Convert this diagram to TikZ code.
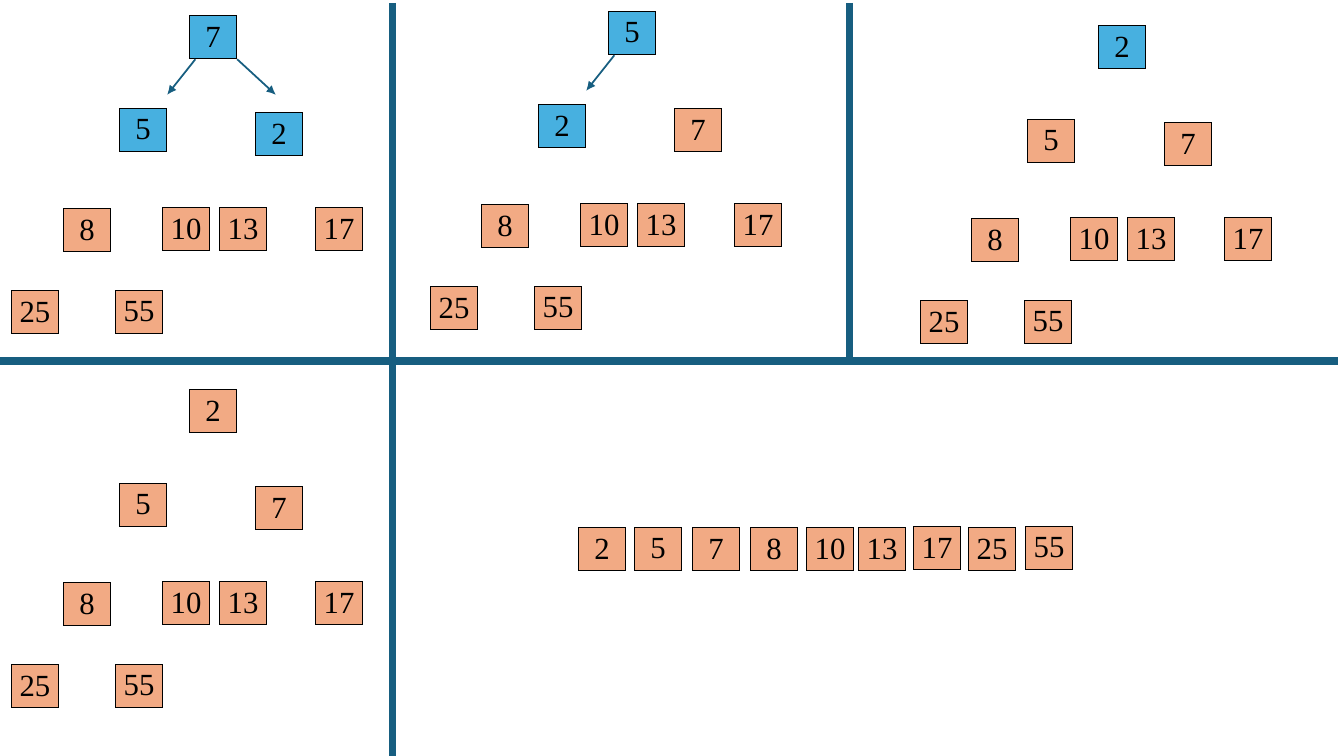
\documentclass[tikz,border=0pt]{standalone}
\usepackage{xcolor}
\usepackage{fontspec}
\setmainfont{Liberation Serif}
\usepackage{tikz}
\usetikzlibrary{arrows.meta}
\definecolor{heapcolor}{HTML}{47B0E0}
\definecolor{keycolor}{HTML}{F2AA84}
\definecolor{rulecolor}{HTML}{175E80}
\tikzset{
  keybox/.style={draw, rectangle, line width=0.6pt, minimum width=0.95cm, minimum height=0.87cm, inner sep=0pt, fill=keycolor, font=\fontsize{17.5pt}{20pt}\selectfont},
  heapbox/.style={keybox, fill=heapcolor},
  divider/.style={draw=rulecolor, line width=4pt},
  swapline/.style={draw=rulecolor, line width=1pt, -{Latex[length=5.5pt,width=5pt]}}
}
\begin{document}
\begin{tikzpicture}[x=0.02cm, y=-0.02cm]%
\useasboundingbox (0, 0) rectangle (1338, 756);%
% panel lines
\draw[divider] (392.5, 3) -- (392.5, 756);%
\draw[divider] (849.5, 3) -- (849.5, 361);%
\draw[divider] (0, 361) -- (1338, 361);%
% panel 1
\node[heapbox] (aseven) at (213, 37) {7};%
\node[heapbox] (afive) at (143, 130) {5};%
\node[heapbox] (atwo) at (279, 134) {2};%
\node[keybox] (aeight) at (87, 230) {8};%
\node[keybox] (aten) at (186, 229) {10};%
\node[keybox] (athirteen) at (243, 229) {13};%
\node[keybox] (aseventeen) at (339, 229) {17};%
\node[keybox] (atwentyfive) at (35, 312) {25};%
\node[keybox] (afiftyfive) at (139, 312) {55};%
\coordinate (aleft) at (167, 95);%
\coordinate (aright) at (276, 95);%
\draw[swapline] (aseven) -- (aleft);%
\draw[swapline] (aseven) -- (aright);%
% panel 2
\node[heapbox] (bfive) at (632, 33) {5};%
\node[heapbox] (btwo) at (562, 126) {2};%
\node[keybox] (bseven) at (698, 130) {7};%
\node[keybox] (beight) at (505, 226) {8};%
\node[keybox] (bten) at (604, 225) {10};%
\node[keybox] (bthirteen) at (661, 225) {13};%
\node[keybox] (bseventeen) at (758, 225) {17};%
\node[keybox] (btwentyfive) at (454, 308) {25};%
\node[keybox] (bfiftyfive) at (558, 308) {55};%
\coordinate (bleft) at (586, 91);%
\draw[swapline] (bfive) -- (bleft);%
% panel 3
\node[heapbox] (ctwo) at (1122, 47) {2};%
\node[keybox] (cfive) at (1051, 141) {5};%
\node[keybox] (cseven) at (1188, 144) {7};%
\node[keybox] (ceight) at (995, 240) {8};%
\node[keybox] (cten) at (1094, 239) {10};%
\node[keybox] (cthirteen) at (1151, 239) {13};%
\node[keybox] (cseventeen) at (1248, 239) {17};%
\node[keybox] (ctwentyfive) at (944, 322) {25};%
\node[keybox] (cfiftyfive) at (1048, 322) {55};%
% panel 4
\node[keybox] (dtwo) at (213, 411) {2};%
\node[keybox] (dfive) at (143, 505) {5};%
\node[keybox] (dseven) at (279, 508) {7};%
\node[keybox] (deight) at (87, 604) {8};%
\node[keybox] (dten) at (186, 603) {10};%
\node[keybox] (dthirteen) at (243, 603) {13};%
\node[keybox] (dseventeen) at (339, 603) {17};%
\node[keybox] (dtwentyfive) at (35, 686) {25};%
\node[keybox] (dfiftyfive) at (139, 686) {55};%
% sorted
\node[keybox] (stwo) at (602, 549) {2};%
\node[keybox] (sfive) at (658, 549) {5};%
\node[keybox] (sseven) at (716, 549) {7};%
\node[keybox] (seight) at (774, 549) {8};%
\node[keybox] (sten) at (830, 549) {10};%
\node[keybox] (sthirteen) at (882, 549) {13};%
\node[keybox] (sseventeen) at (937, 548) {17};%
\node[keybox] (stwentyfive) at (992, 549) {25};%
\node[keybox] (sfiftyfive) at (1049, 548) {55};%
\end{tikzpicture}
\end{document}
